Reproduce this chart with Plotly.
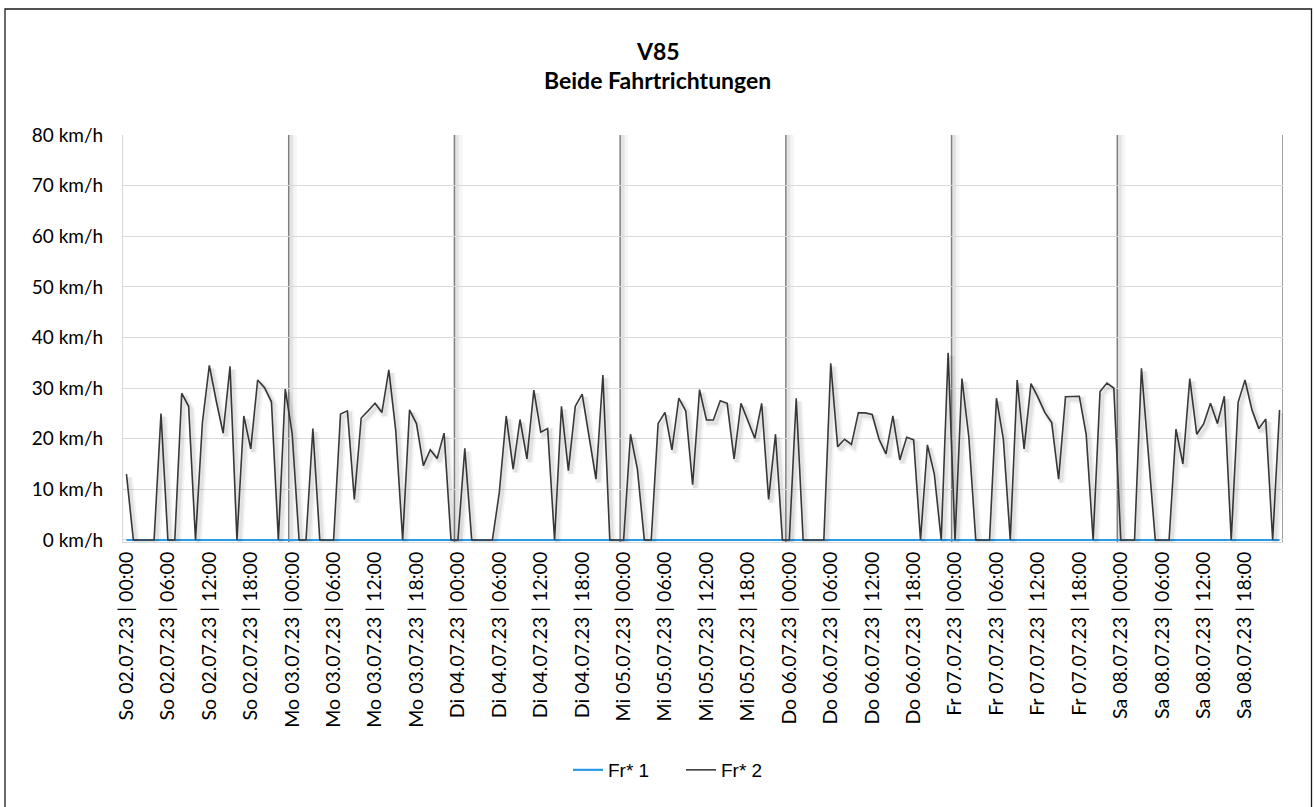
import plotly.graph_objects as go

# ---------------- data ----------------
days = ["So 02.07.23", "Mo 03.07.23", "Di 04.07.23", "Mi 05.07.23",
        "Do 06.07.23", "Fr 07.07.23", "Sa 08.07.23"]
label_hours = ["00:00", "06:00", "12:00", "18:00"]
hours_per_day = 24
label_step = 6

# Fr* 1 (all hours read as 0 km/h)
fr1_so = [0, 0, 0, 0, 0, 0, 0, 0, 0, 0, 0, 0, 0, 0, 0, 0, 0, 0, 0, 0, 0, 0, 0, 0]
fr1_mo = [0, 0, 0, 0, 0, 0, 0, 0, 0, 0, 0, 0, 0, 0, 0, 0, 0, 0, 0, 0, 0, 0, 0, 0]
fr1_di = [0, 0, 0, 0, 0, 0, 0, 0, 0, 0, 0, 0, 0, 0, 0, 0, 0, 0, 0, 0, 0, 0, 0, 0]
fr1_mi = [0, 0, 0, 0, 0, 0, 0, 0, 0, 0, 0, 0, 0, 0, 0, 0, 0, 0, 0, 0, 0, 0, 0, 0]
fr1_do = [0, 0, 0, 0, 0, 0, 0, 0, 0, 0, 0, 0, 0, 0, 0, 0, 0, 0, 0, 0, 0, 0, 0, 0]
fr1_fr = [0, 0, 0, 0, 0, 0, 0, 0, 0, 0, 0, 0, 0, 0, 0, 0, 0, 0, 0, 0, 0, 0, 0, 0]
fr1_sa = [0, 0, 0, 0, 0, 0, 0, 0, 0, 0, 0, 0, 0, 0, 0, 0, 0, 0, 0, 0, 0, 0, 0, 0]

# Fr* 2 (km/h, hourly)
fr2_so = [13.0, 0, 0, 0, 0, 25.0, 0, 0, 29.0, 26.4, 0, 23.2,
          34.5, 27.5, 21.1, 34.3, 0, 24.5, 18.0, 31.6, 30.1, 27.3, 0, 29.8]
fr2_mo = [21.0, 0, 0, 22.0, 0, 0, 0, 24.9, 25.5, 8.0, 24.1, 25.5,
          27.0, 25.2, 33.6, 21.6, 0, 25.7, 23.0, 14.7, 17.8, 16.1, 21.1, 0]
fr2_di = [0, 18.1, 0, 0, 0, 0, 9.4, 24.5, 14.0, 23.8, 16.0, 29.6,
          21.3, 22.0, 0, 26.4, 13.7, 26.4, 28.8, 20.4, 12.0, 32.6, 0, 0]
fr2_mi = [0, 20.9, 14.0, 0, 0, 23.0, 25.2, 17.8, 28.0, 25.5, 10.9, 29.7,
          23.7, 23.7, 27.5, 27.0, 16.0, 27.0, 23.6, 20.1, 27.0, 8.0, 20.9, 0]
fr2_do = [0, 28.0, 0, 0, 0, 0, 34.9, 18.4, 19.9, 18.9, 25.1, 25.1,
          24.8, 19.9, 17.0, 24.5, 15.8, 20.3, 19.8, 0, 18.8, 13.0, 0, 37.0]
fr2_fr = [0, 31.9, 20.3, 0, 0, 0, 28.0, 19.9, 0, 31.6, 18.0, 30.9,
          28.2, 25.2, 23.2, 12.0, 28.3, 28.3, 28.4, 20.8, 0, 29.3, 31.0, 30.0]
fr2_sa = [0, 0, 0, 33.9, 17.0, 0, 0, 0, 21.9, 15.0, 31.9, 20.9,
          22.9, 27.0, 23.0, 28.4, 0, 27.2, 31.6, 25.7, 22.0, 23.9, 0, 25.7]

fr1 = fr1_so + fr1_mo + fr1_di + fr1_mi + fr1_do + fr1_fr + fr1_sa
fr2 = fr2_so + fr2_mo + fr2_di + fr2_mi + fr2_do + fr2_fr + fr2_sa
n = len(fr2)
x = list(range(n))

tickvals = list(range(0, n, label_step))
ticktext = [f"{days[v // hours_per_day]} | {label_hours[(v % hours_per_day) // label_step]}"
            for v in tickvals]
day_bounds = [d * hours_per_day - 0.5 for d in range(1, len(days) + 1)]

# ---------------- geometry / style ----------------
W, H = 1315, 807
ML, MR, MT, MB = 123, 32, 135, 265
pw = W - ML - MR
ph = H - MT - MB
xr = [-0.5, n - 0.5]
yr = [-0.4, 80]
px_x = (xr[1] - xr[0]) / pw
px_y = (yr[1] - yr[0]) / ph

BLUE = "#2a9be8"
DARK = "#3c3c3c"
GRID = "#d9d9d9"
FONT = "Lato"

fig = go.Figure()

# shadow layers of Fr* 2 (offset down-right)
for ax, ay, dx, dy, w, a in [("x2", "y2", 3.0, 3.5, 7, 0.045), ("x3", "y3", 2.5, 3.0, 4, 0.07)]:
    fig.add_trace(go.Scatter(x=x, y=fr2, mode="lines", xaxis=ax, yaxis=ay,
                             line=dict(color=f"rgba(0,0,0,{a})", width=w),
                             showlegend=False, hoverinfo="skip"))

fig.add_trace(go.Scatter(x=x, y=fr1, mode="lines", name="Fr* 1",
                         line=dict(color=BLUE, width=2.2)))
fig.add_trace(go.Scatter(x=x, y=fr2, mode="lines", name="Fr* 2",
                         line=dict(color=DARK, width=1.6)))

shapes = []
# day separator shadows and lines
for b in day_bounds:
    for off, w, a in [(4.0, 8, 0.04), (2.5, 4, 0.07)]:
        shapes.append(dict(type="line", xref="x", yref="paper",
                           x0=b + off * px_x, x1=b + off * px_x, y0=0, y1=1,
                           line=dict(color=f"rgba(0,0,0,{a})", width=w), layer="below"))
    shapes.append(dict(type="line", xref="x", yref="paper", x0=b, x1=b, y0=0, y1=1,
                       line=dict(color="#808080", width=1.5), layer="below"))

# outer chart border
shapes.append(dict(type="rect", xref="paper", yref="paper",
                   x0=(5 - ML) / pw, x1=(1311.5 - ML) / pw,
                   y0=(ph + MT - 810) / ph, y1=(ph + MT - 9) / ph,
                   line=dict(color="#1a1a1a", width=1.3), fillcolor="rgba(0,0,0,0)"))

annotations = [
    dict(text="<b>V85</b>", xref="paper", yref="paper",
         x=(657.5 - ML) / pw, y=(ph + MT - 51) / ph, showarrow=False,
         xanchor="center", yanchor="middle", font=dict(family=FONT, size=23, color="#000")),
    dict(text="<b>Beide Fahrtrichtungen</b>", xref="paper", yref="paper",
         x=(657.5 - ML) / pw, y=(ph + MT - 80) / ph, showarrow=False,
         xanchor="center", yanchor="middle", font=dict(family=FONT, size=23, color="#000")),
]

shadow_axis = dict(visible=False, showgrid=False, zeroline=False)
fig.update_layout(
    width=W, height=H,
    margin=dict(l=ML, r=MR, t=MT, b=MB, pad=0),
    paper_bgcolor="white", plot_bgcolor="white",
    showlegend=True,
    legend=dict(orientation="h", x=(568 - ML) / pw, xanchor="left",
                y=(ph + MT - 770) / ph, yanchor="middle",
                font=dict(family="Liberation Sans", size=19, color="#000"),
                bgcolor="rgba(0,0,0,0)", itemwidth=30, entrywidth=68,
                tracegroupgap=0),
    xaxis=dict(range=xr, tickmode="array", tickvals=tickvals, ticktext=ticktext,
               tickangle=-90, tickfont=dict(family=FONT, size=19.5, color="#000"),
               showgrid=False, zeroline=False, showline=True, linecolor=GRID,
               linewidth=1, ticks="", ticklabelstandoff=1),
    yaxis=dict(range=yr, tickmode="linear", tick0=0, dtick=10, ticksuffix=" km/h",
               tickfont=dict(family=FONT, size=19, color="#000"),
               showgrid=True, gridcolor=GRID, gridwidth=1, zeroline=False,
               showline=True, linecolor=GRID, ticks="", ticklabelstandoff=15),
    xaxis2=dict(overlaying="x", range=[xr[0] - 3.0 * px_x, xr[1] - 3.0 * px_x], **shadow_axis),
    yaxis2=dict(overlaying="y", range=[yr[0] + 3.5 * px_y, yr[1] + 3.5 * px_y], **shadow_axis),
    xaxis3=dict(overlaying="x", range=[xr[0] - 2.5 * px_x, xr[1] - 2.5 * px_x], **shadow_axis),
    yaxis3=dict(overlaying="y", range=[yr[0] + 3.0 * px_y, yr[1] + 3.0 * px_y], **shadow_axis),
    shapes=shapes,
    annotations=annotations,
)

fig.write_html("out.html", config={"displayModeBar": False},
               post_script="document.body.style.margin='0';")
